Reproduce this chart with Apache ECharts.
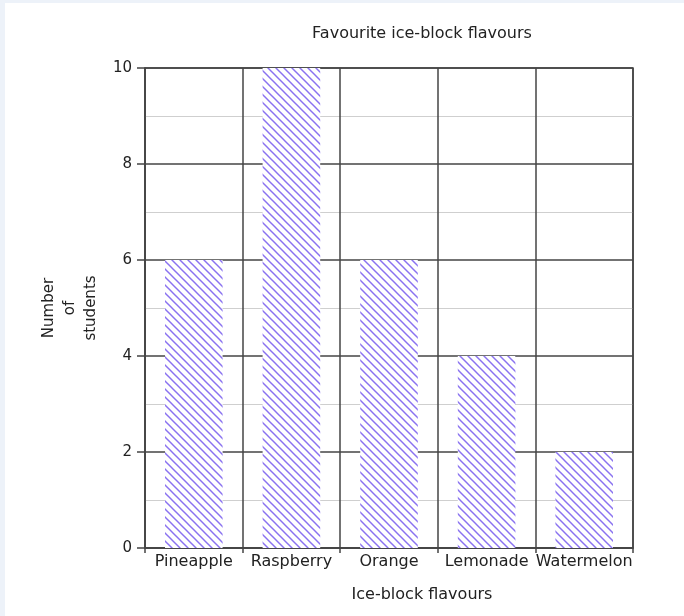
<!DOCTYPE html>
<html>
<head>
<meta charset="utf-8">
<script src="https://cdn.jsdelivr.net/npm/echarts@6/dist/echarts.min.js"></script>
<style>
html,body{margin:0;padding:0;background:#fff;}
#wrap{position:relative;width:684px;height:616px;}
#chart{position:absolute;left:0;top:0;width:684px;height:616px;}
#frame{position:absolute;left:0;top:0;width:679px;height:613px;border-left:5px solid #edf2f9;border-top:3px solid #edf2f9;pointer-events:none;}
</style>
</head>
<body>
<div id="wrap"><div id="chart"></div><div id="frame"></div></div>
<script>
const categories = ['Pineapple', 'Raspberry', 'Orange', 'Lemonade', 'Watermelon'];
const students = [6, 10, 6, 4, 2];
const yTicks = [0, 2, 4, 6, 8, 10];

function hatch() {
  const s = 8;
  const c = document.createElement('canvas');
  c.width = s; c.height = s;
  const g = c.getContext('2d');
  g.fillStyle = '#ffffff';
  g.fillRect(0, 0, s, s);
  g.strokeStyle = '#8a72f0';
  g.lineWidth = 1.5;
  for (const o of [-s, 0, s]) {
    g.beginPath();
    g.moveTo(o - 1, -1);
    g.lineTo(o + s + 1, s + 1);
    g.stroke();
  }
  return c;
}

const font = '"DejaVu Sans", Verdana, sans-serif';
const chart = echarts.init(document.getElementById('chart'));
chart.setOption({
  backgroundColor: '#ffffff',
  animation: false,
  title: {
    text: 'Favourite ice-block flavours',
    left: 417, top: 21, textAlign: 'center',
    textStyle: {fontFamily: font, fontSize: 16, fontWeight: 'normal', color: '#222'}
  },
  grid: {left: 145, right: 51, top: 68, bottom: 68, show: true, borderColor: '#444', borderWidth: 1.5},
  xAxis: {
    type: 'category',
    data: categories,
    name: 'Ice-block flavours',
    nameLocation: 'middle',
    nameGap: 39,
    nameTextStyle: {fontFamily: font, fontSize: 16, color: '#222', padding: [0, 0, 0, 66]},
    axisLine: {show: true, lineStyle: {color: '#444', width: 1.5}},
    axisTick: {show: true, length: 5, lineStyle: {color: '#444', width: 1.5}},
    axisLabel: {fontFamily: font, fontSize: 16, color: '#222', margin: 6, interval: 0},
    splitLine: {show: true, lineStyle: {color: '#444', width: 1.5}}
  },
  yAxis: {
    type: 'value',
    min: 0, max: 10, interval: 2,
    name: 'Number\nof\nstudents',
    nameLocation: 'middle',
    nameRotate: 90,
    nameGap: 42,
    nameTextStyle: {fontFamily: font, fontSize: 15, color: '#222', lineHeight: 21, align: 'center'},
    axisLine: {show: true, lineStyle: {color: '#444', width: 1.5}},
    axisTick: {show: true, length: 8, lineStyle: {color: '#444', width: 1.5}},
    axisLabel: {fontFamily: font, fontSize: 15, color: '#222', margin: 13,
      formatter: v => yTicks.includes(v) ? String(v) : ''},
    splitLine: {show: true, lineStyle: {color: '#444', width: 1.5}},
    minorTick: {show: false, splitNumber: 2},
    minorSplitLine: {show: true, lineStyle: {color: '#cfcfcf', width: 1}}
  },
  series: [{
    type: 'bar',
    data: students,
    barWidth: '59%',
    itemStyle: {color: {image: hatch(), repeat: 'repeat'}}
  }]
});
</script>
</body>
</html>
